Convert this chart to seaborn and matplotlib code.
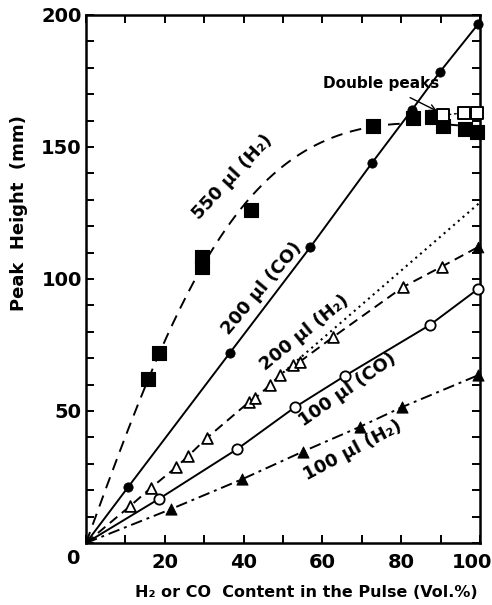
import numpy as np
import pandas as pd
import matplotlib
matplotlib.use("Agg")
import matplotlib.pyplot as plt
import matplotlib.transforms as mtrans
import seaborn as sns

# ---- data ----
sq550_x = [15.7, 18.5, 29.5, 29.5, 42.0, 72.8, 83.0, 87.8, 90.6, 96.2, 99.2]
sq550_y = [62.0, 72.0, 108.5, 104.5, 126.0, 158.0, 161.0, 161.5, 158.0, 157.0, 155.7]
dp_x = [90.6, 96.0, 99.2]          # double peaks (open squares)
dp_y = [162.0, 163.0, 163.0]
co200_x = [10.7, 36.5, 56.9, 72.6, 82.7, 89.8, 99.5]
co200_y = [21.2, 72.0, 112.0, 144.0, 164.0, 178.4, 196.5]
h2200_x = [11.2, 16.5, 22.8, 25.9, 30.6, 41.3, 42.9, 46.6, 49.2, 52.6, 54.3, 62.8, 80.5, 90.3]
h2200_y = [14.0, 20.9, 28.6, 32.9, 39.7, 53.3, 54.8, 59.7, 63.6, 67.4, 68.7, 78.1, 97.0, 104.7]
h2200_end_x = [99.4]
h2200_end_y = [112.0]
lin_x = [50.0, 100.0]              # dotted linear extension
lin_y = [64.5, 129.0]
co100_x = [18.5, 38.4, 53.0, 65.7, 87.3, 99.4]
co100_y = [16.7, 35.6, 51.4, 63.3, 82.6, 96.1]
h2100_x = [21.5, 39.7, 55.0, 69.5, 80.1, 99.6]
h2100_y = [12.8, 24.2, 34.6, 44.0, 51.4, 63.6]

x_ticks = [0, 20, 40, 60, 80, 100]
y_ticks = [50, 100, 150, 200]

sns.set_theme(style="ticks")
plt.rcParams['font.family'] = ['DejaVu Sans']
plt.rcParams['font.weight'] = 'bold'
for k in ['text.color', 'axes.labelcolor', 'xtick.color', 'ytick.color', 'axes.edgecolor']:
    plt.rcParams[k] = 'black'

fig = plt.figure(figsize=(4.92, 6.05), dpi=100)
ax = fig.add_axes([86/492, 1-543/605, 394/492, 528/605])

def with_origin(x, y):
    return pd.DataFrame({"x": [0.0] + list(x), "y": [0.0] + list(y)})

# 550 ul (H2): fitted saturating curve  y = a*tanh(x/b) + c*x
fx = np.array([0.0] + sq550_x)
fy = np.array([0.0] + sq550_y)
best = None
for b in np.linspace(5, 120, 600):
    A = np.column_stack([np.tanh(fx / b), fx])
    sol, *_ = np.linalg.lstsq(A, fy, rcond=None)
    r = np.sum((A @ sol - fy) ** 2)
    if best is None or r < best[0]:
        best = (r, b, sol)
_, bb, (aa, cc) = best
xs = np.linspace(0, 100, 300)
curve = pd.DataFrame({"x": xs, "y": aa * np.tanh(xs / bb) + cc * xs})
sns.lineplot(data=curve, x="x", y="y", ax=ax, color="black", lw=1.4,
             linestyle=(0, (6, 4)), sort=False)
sns.lineplot(data=pd.DataFrame({"x": [sq550_x[7]] + dp_x, "y": [sq550_y[7]] + dp_y}),
             x="x", y="y", ax=ax, color="black", lw=1.0, linestyle=(0, (2, 2)), sort=False)
sns.scatterplot(data=pd.DataFrame({"x": sq550_x, "y": sq550_y}), x="x", y="y", ax=ax,
                marker="s", s=100, color="black", edgecolor="black", clip_on=False, zorder=5)
sns.scatterplot(data=pd.DataFrame({"x": dp_x, "y": dp_y}), x="x", y="y", ax=ax,
                marker="s", s=85, facecolor="white", edgecolor="black", linewidth=1.4,
                clip_on=False, zorder=5)

# 200 ul (CO)
sns.lineplot(data=with_origin(co200_x, co200_y), x="x", y="y", ax=ax, color="black",
             lw=1.4, sort=False)
sns.scatterplot(data=pd.DataFrame({"x": co200_x, "y": co200_y}), x="x", y="y", ax=ax,
                marker="o", s=45, color="black", edgecolor="black", clip_on=False, zorder=5)

# 200 ul (H2)
sns.lineplot(data=with_origin(h2200_x + h2200_end_x, h2200_y + h2200_end_y), x="x", y="y",
             ax=ax, color="black", lw=1.4, linestyle=(0, (5, 3)), sort=False)
sns.lineplot(data=pd.DataFrame({"x": lin_x, "y": lin_y}), x="x", y="y", ax=ax,
             color="black", lw=1.5, linestyle=(0, (1, 2)), sort=False)
sns.scatterplot(data=pd.DataFrame({"x": h2200_x, "y": h2200_y}), x="x", y="y", ax=ax,
                marker="^", s=60, facecolor="white", edgecolor="black", linewidth=1.3,
                clip_on=False, zorder=5)
sns.scatterplot(data=pd.DataFrame({"x": h2200_end_x, "y": h2200_end_y}), x="x", y="y", ax=ax,
                marker="^", s=60, color="black", edgecolor="black", clip_on=False, zorder=5)

# 100 ul (CO)
sns.lineplot(data=with_origin(co100_x, co100_y), x="x", y="y", ax=ax, color="black",
             lw=1.4, sort=False)
sns.scatterplot(data=pd.DataFrame({"x": co100_x, "y": co100_y}), x="x", y="y", ax=ax,
                marker="o", s=55, facecolor="white", edgecolor="black", linewidth=1.3,
                clip_on=False, zorder=5)

# 100 ul (H2)
sns.lineplot(data=with_origin(h2100_x, h2100_y), x="x", y="y", ax=ax, color="black",
             lw=1.4, linestyle=(0, (6, 2.5, 1.5, 2.5)), sort=False)
sns.scatterplot(data=pd.DataFrame({"x": h2100_x, "y": h2100_y}), x="x", y="y", ax=ax,
                marker="^", s=65, color="black", edgecolor="black", clip_on=False, zorder=5)

# axes
ax.set_xlim(0, 100)
ax.set_ylim(0, 200)
ax.set_xticks(x_ticks)
ax.set_xticklabels([""] + [str(t) for t in x_ticks[1:]])
ax.set_yticks(y_ticks)
ax.set_yticklabels([str(t) for t in y_ticks])
ax.set_xticks(np.arange(0, 101, 10), minor=True)
ax.set_yticks(np.arange(0, 201, 10), minor=True)
ax.tick_params(which="both", direction="in", top=True, right=True, length=6, width=1.4,
               color="black")
ax.tick_params(axis="x", labelsize=14, pad=7)
ax.tick_params(axis="y", labelsize=14, pad=3)
for lab in ax.get_xticklabels() + ax.get_yticklabels():
    lab.set_fontweight("bold")
last = ax.get_xticklabels()[-1]
last.set_transform(last.get_transform() +
                   mtrans.ScaledTranslation(-0.08, 0, fig.dpi_scale_trans))
for sp in ax.spines.values():
    sp.set_linewidth(1.8)
    sp.set_color("black")
ax.annotate("0", xy=(0, 0), xytext=(-13, -15), textcoords="offset pixels",
            ha="center", va="center", fontsize=14, fontweight="bold")

ax.set_xlabel("H\u2082 or CO  Content in the Pulse (Vol.%)", fontsize=11.5, fontweight="bold")
ax.set_ylabel("Peak  Height  (mm)", fontsize=13, fontweight="bold")
ax.xaxis.set_label_coords(0.558, -0.08)
ax.yaxis.set_label_coords(-0.147, 0.625)

# curve labels
lab_kw = dict(ha="center", va="center", fontsize=13, fontweight="bold",
              rotation_mode="anchor", zorder=6)
ax.text(37.3, 138.6, "550 \u00b5l (H\u2082)", rotation=47, **lab_kw)
ax.text(44.7, 96.6, "200 \u00b5l (CO)", rotation=50, **lab_kw)
ax.text(55.6, 79.5, "200 \u00b5l (H\u2082)", rotation=39, **lab_kw)
ax.text(66.5, 58.0, "100 \u00b5l (CO)", rotation=35, **lab_kw)
ax.text(67.8, 35.2, "100 \u00b5l (H\u2082)", rotation=28, **lab_kw)

ax.annotate("Double peaks", xy=(89.1, 163.6), xytext=(74.9, 174.2),
            ha="center", va="center", fontsize=11, fontweight="bold",
            arrowprops=dict(arrowstyle="->", color="black", lw=1.0,
                            shrinkA=6, shrinkB=0))

ax.set_facecolor("white")
fig.patch.set_facecolor("white")
fig.savefig("out.png", dpi=100)
